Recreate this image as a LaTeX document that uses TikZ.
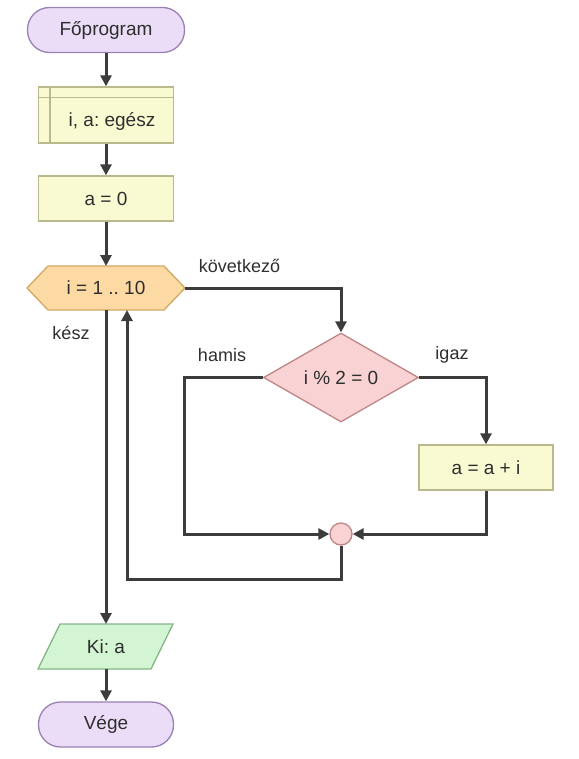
\documentclass[tikz,border=0pt]{standalone}
\usepackage{fontspec}
\setmainfont{Liberation Sans}
\frenchspacing
\usetikzlibrary{arrows.meta,shapes.geometric}
\definecolor{txt}{HTML}{2E2E2E}
\definecolor{ln}{HTML}{3C3C3C}
\definecolor{lavf}{HTML}{EBDDF7}
\definecolor{lavd}{HTML}{9A80B4}
\definecolor{yelf}{HTML}{FAFAD2}
\definecolor{yeld}{HTML}{B9B98C}
\definecolor{orf}{HTML}{FDD9A3}
\definecolor{ord}{HTML}{D2A865}
\definecolor{pkf}{HTML}{F9D2D4}
\definecolor{pkd}{HTML}{C08587}
\definecolor{grf}{HTML}{D3F5D3}
\definecolor{grd}{HTML}{85B585}
\tikzset{
  every node/.style={font=\fontsize{19}{22}\selectfont, text=txt},
  term/.style={draw=lavd, fill=lavf, line width=1.3pt, rounded corners=22pt, minimum height=45pt, inner sep=0pt},
  procbox/.style={draw=yeld, fill=yelf, line width=1.3pt, minimum width=135pt, minimum height=45pt, inner sep=0pt},
  conn/.style={draw=ln, line width=3pt, -{Triangle[length=11pt,width=11pt]}},
  lbl/.style={font=\fontsize{18}{21}\selectfont, text=txt}
}
\begin{document}
\begin{tikzpicture}[x=1pt,y=-1pt]
\useasboundingbox (0,0) rectangle (578,759);
% nodes
\node[term, minimum width=157pt] (start) at (106,30) {Főprogram};
\node[procbox, minimum height=56pt] (decl) at (106,115) {};
\draw[yeld, line width=1.3pt] ([xshift=12pt]decl.north west) -- ([xshift=12pt]decl.south west);
\draw[yeld, line width=1.3pt] ([yshift=-11pt]decl.north west) -- ([yshift=-11pt]decl.north east);
\node at (112,121) (decltext) {i, a: egész};
\node[procbox] (init) at (106,198.5) {a = 0};
% hexagon
\draw[ord, fill=orf, line width=1.3pt] (27,288) -- (48,266) -- (164,266) -- (185,288) -- (164,310) -- (48,310) -- cycle;
\node (loop) at (106,288) {i = 1 .. 10};
\coordinate (loopR) at (185,288);
\coordinate (loopB) at (106,310);
\coordinate (loopBR) at (127,310);
\node[diamond, draw=pkd, fill=pkf, line width=1.3pt, minimum width=155pt, minimum height=89pt, aspect=1.74, inner sep=0pt] (cond) at (341,377.5) {i \% 2 = 0};
\node[procbox, minimum width=134pt] (inc) at (486,467.5) {a = a + i};
\node[circle, draw=pkd, fill=pkf, line width=1.3pt, minimum size=22pt, inner sep=0pt] (join) at (341,534) {};
% parallelogram
\draw[grd, fill=grf, line width=1.3pt] (60,624) -- (173,624) -- (151,669) -- (38,669) -- cycle;
\node (out) at (106,646.5) {Ki: a};
\coordinate (outT) at (106,624);
\coordinate (outB) at (106,669);
\node[term, minimum width=135pt] (end) at (106,724.5) {Vége};
% connectors
\draw[conn] (start.south) -- (decl.north);
\draw[conn] (decl.south) -- (init.north);
\draw[conn] (init.south) -- (106,266);
\draw[conn] (loopR) -| (cond.north);
\draw[conn] (cond.east) -| (inc.north);
\draw[conn] (cond.west) -| (184,534) -- (join.west);
\draw[conn] (inc.south) |- (join.east);
\draw[conn] (join.south) |- (127,579) -- (loopBR);
\draw[conn] (loopB) -- (outT);
\draw[conn] (outB) -- (end.north);
% labels
\node[lbl] (lnext) at (239.5,266) {következő};
\node[lbl] (ldone) at (71,333) {kész};
\node[lbl] (lfalse) at (222,355) {hamis};
\node[lbl] (ltrue) at (452,355) {igaz};
\end{tikzpicture}
\end{document}
